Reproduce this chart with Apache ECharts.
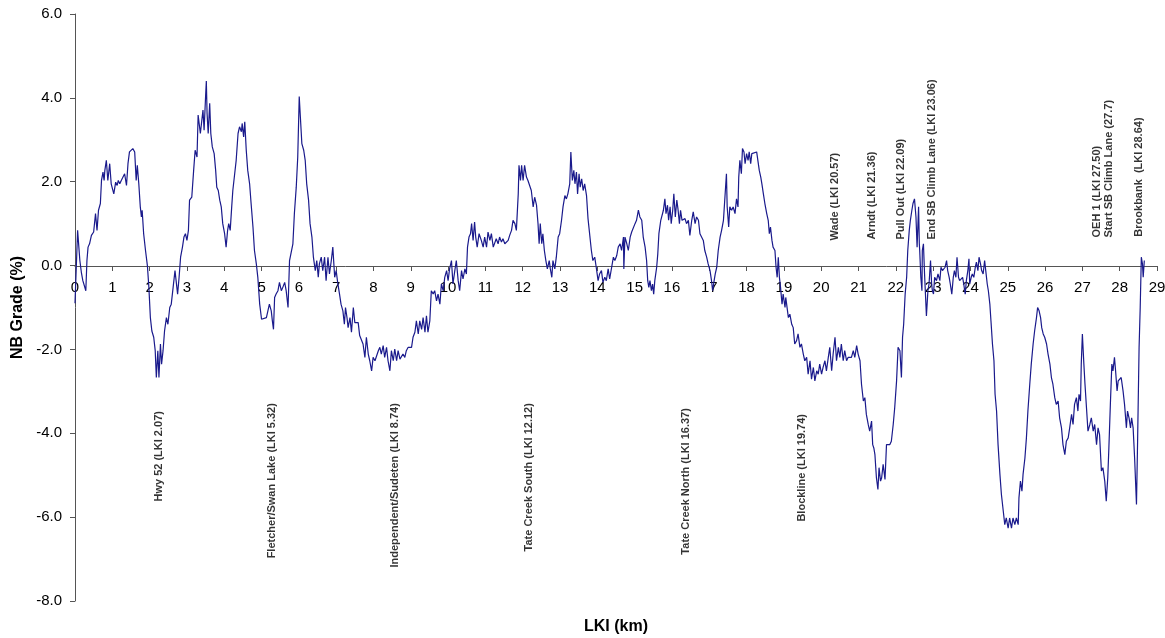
<!DOCTYPE html>
<html>
<head>
<meta charset="utf-8">
<title>NB Grade</title>
<script src="https://cdn.jsdelivr.net/npm/echarts@6/dist/echarts.min.js"></script>
<style>
  html, body { margin: 0; padding: 0; background: #fff; }
  #chart { width: 1165px; height: 638px; }
</style>
</head>
<body>
<div id="chart"></div>
<script>
// chainage along the road (km) and northbound grade (%)
const lki = [
  0.00, 0.07, 0.13, 0.17, 0.21, 0.26, 0.29, 0.32, 0.35, 0.39, 0.44, 0.50, 0.55, 0.59, 0.63, 0.68, 0.71, 0.75, 0.78, 0.80,
  0.84, 0.88, 0.93, 0.97, 1.00, 1.04, 1.09, 1.13, 1.16, 1.20, 1.24, 1.29, 1.33, 1.38, 1.42, 1.46, 1.51, 1.55, 1.60, 1.64,
  1.67, 1.71, 1.75, 1.78, 1.80, 1.84, 1.89, 1.94, 1.98, 2.02, 2.06, 2.11, 2.15, 2.18, 2.21, 2.22, 2.25, 2.29, 2.32, 2.36,
  2.40, 2.45, 2.49, 2.54, 2.58, 2.63, 2.68, 2.71, 2.75, 2.79, 2.83, 2.88, 2.92, 2.96, 3.00, 3.04, 3.07, 3.13, 3.18, 3.22,
  3.27, 3.30, 3.36, 3.39, 3.43, 3.46, 3.50, 3.52, 3.54, 3.57, 3.61, 3.64, 3.68, 3.73, 3.77, 3.80, 3.84, 3.88, 3.92, 3.96,
  4.01, 4.05, 4.09, 4.12, 4.16, 4.20, 4.23, 4.28, 4.32, 4.37, 4.41, 4.46, 4.48, 4.52, 4.55, 4.59, 4.63, 4.68, 4.72, 4.77,
  4.81, 4.86, 4.90, 4.95, 5.00, 5.05, 5.13, 5.17, 5.21, 5.26, 5.29, 5.32, 5.35, 5.39, 5.44, 5.48, 5.53, 5.57, 5.62, 5.66,
  5.71, 5.75, 5.79, 5.84, 5.88, 5.93, 5.97, 6.01, 6.04, 6.08, 6.13, 6.17, 6.21, 6.26, 6.30, 6.35, 6.39, 6.44, 6.48, 6.52,
  6.55, 6.60, 6.64, 6.69, 6.73, 6.78, 6.82, 6.87, 6.91, 6.96, 7.00, 7.04, 7.09, 7.13, 7.18, 7.22, 7.25, 7.29, 7.32, 7.37,
  7.41, 7.46, 7.50, 7.59, 7.63, 7.68, 7.72, 7.77, 7.81, 7.86, 7.90, 7.95, 7.99, 8.04, 8.08, 8.13, 8.17, 8.21, 8.26, 8.30,
  8.35, 8.39, 8.44, 8.48, 8.53, 8.57, 8.62, 8.66, 8.71, 8.75, 8.79, 8.84, 8.88, 8.93, 8.97, 9.02, 9.06, 9.11, 9.15, 9.20,
  9.24, 9.29, 9.33, 9.38, 9.42, 9.46, 9.51, 9.55, 9.60, 9.64, 9.69, 9.73, 9.78, 9.82, 9.87, 9.91, 9.96, 10.00, 10.04, 10.09,
  10.13, 10.18, 10.22, 10.27, 10.31, 10.36, 10.40, 10.45, 10.49, 10.52, 10.56, 10.60, 10.63, 10.67, 10.71, 10.74, 10.78, 10.83, 10.89, 10.94,
  10.98, 11.03, 11.07, 11.12, 11.16, 11.21, 11.25, 11.29, 11.34, 11.38, 11.43, 11.47, 11.52, 11.56, 11.61, 11.65, 11.70, 11.74, 11.79, 11.83,
  11.88, 11.90, 11.94, 11.97, 12.01, 12.05, 12.10, 12.14, 12.19, 12.23, 12.28, 12.32, 12.37, 12.41, 12.44, 12.47, 12.51, 12.54, 12.58, 12.62,
  12.66, 12.71, 12.74, 12.78, 12.81, 12.86, 12.90, 12.95, 12.99, 13.04, 13.08, 13.13, 13.17, 13.21, 13.26, 13.29, 13.33, 13.37, 13.40, 13.44,
  13.47, 13.51, 13.54, 13.58, 13.62, 13.66, 13.71, 13.75, 13.79, 13.84, 13.88, 13.93, 13.97, 14.02, 14.06, 14.11, 14.15, 14.20, 14.24, 14.29,
  14.33, 14.38, 14.43, 14.47, 14.52, 14.56, 14.61, 14.65, 14.70, 14.71, 14.74, 14.79, 14.83, 14.88, 14.92, 14.96, 15.01, 15.05, 15.10, 15.14,
  15.19, 15.23, 15.28, 15.32, 15.35, 15.38, 15.41, 15.45, 15.48, 15.51, 15.54, 15.59, 15.62, 15.65, 15.70, 15.74, 15.77, 15.81, 15.84, 15.88,
  15.91, 15.95, 15.98, 16.02, 16.05, 16.09, 16.13, 16.16, 16.20, 16.23, 16.27, 16.30, 16.35, 16.39, 16.44, 16.48, 16.53, 16.57, 16.62, 16.66,
  16.71, 16.75, 16.79, 16.84, 16.88, 16.93, 16.97, 17.02, 17.06, 17.09, 17.13, 17.16, 17.20, 17.24, 17.29, 17.33, 17.38, 17.42, 17.46, 17.48,
  17.52, 17.55, 17.60, 17.64, 17.69, 17.73, 17.77, 17.79, 17.82, 17.86, 17.89, 17.93, 17.96, 18.00, 18.04, 18.07, 18.11, 18.14, 18.18, 18.27,
  18.31, 18.34, 18.38, 18.41, 18.45, 18.49, 18.54, 18.58, 18.61, 18.64, 18.68, 18.71, 18.76, 18.79, 18.82, 18.85, 18.88, 18.91, 18.95, 18.98,
  19.03, 19.05, 19.12, 19.16, 19.21, 19.25, 19.29, 19.34, 19.38, 19.43, 19.47, 19.52, 19.56, 19.61, 19.65, 19.70, 19.74, 19.79, 19.83, 19.88,
  19.92, 19.96, 20.01, 20.05, 20.10, 20.14, 20.19, 20.23, 20.28, 20.32, 20.37, 20.41, 20.46, 20.50, 20.54, 20.59, 20.63, 20.68, 20.72, 20.77,
  20.81, 20.86, 20.90, 20.95, 20.99, 21.04, 21.08, 21.13, 21.17, 21.21, 21.26, 21.30, 21.35, 21.38, 21.41, 21.44, 21.48, 21.52, 21.55, 21.59,
  21.62, 21.66, 21.71, 21.75, 21.79, 21.84, 21.88, 21.93, 21.97, 22.02, 22.06, 22.11, 22.15, 22.18, 22.21, 22.25, 22.29, 22.32, 22.36, 22.39,
  22.43, 22.46, 22.50, 22.54, 22.57, 22.61, 22.63, 22.64, 22.67, 22.70, 22.71, 22.74, 22.77, 22.79, 22.82, 22.86, 22.89, 22.93, 22.96, 22.98,
  23.01, 23.04, 23.09, 23.13, 23.18, 23.21, 23.25, 23.29, 23.32, 23.36, 23.39, 23.43, 23.46, 23.50, 23.54, 23.57, 23.61, 23.64, 23.68, 23.71,
  23.75, 23.79, 23.82, 23.86, 23.89, 23.93, 23.96, 23.98, 24.02, 24.05, 24.09, 24.13, 24.16, 24.20, 24.23, 24.27, 24.30, 24.34, 24.38, 24.41,
  24.45, 24.48, 24.52, 24.55, 24.59, 24.63, 24.66, 24.70, 24.74, 24.79, 24.83, 24.88, 24.92, 24.96, 25.01, 25.05, 25.10, 25.14, 25.19, 25.23,
  25.28, 25.30, 25.34, 25.38, 25.41, 25.46, 25.50, 25.54, 25.59, 25.63, 25.68, 25.72, 25.77, 25.80, 25.84, 25.88, 25.91, 25.95, 25.99, 26.04,
  26.08, 26.13, 26.17, 26.21, 26.26, 26.30, 26.35, 26.39, 26.44, 26.48, 26.53, 26.57, 26.62, 26.66, 26.71, 26.75, 26.79, 26.84, 26.88, 26.91,
  26.95, 26.97, 27.00, 27.04, 27.07, 27.11, 27.15, 27.20, 27.24, 27.29, 27.33, 27.38, 27.42, 27.46, 27.51, 27.55, 27.60, 27.64, 27.68, 27.71,
  27.75, 27.79, 27.82, 27.86, 27.89, 27.93, 27.96, 28.00, 28.04, 28.09, 28.13, 28.18, 28.21, 28.25, 28.29, 28.32, 28.36, 28.40, 28.45, 28.48,
  28.52, 28.55, 28.58, 28.61, 28.63, 28.66
];

const nbGrade = [
  -0.90, 0.84, 0.12, -0.16, -0.36, -0.40, -0.60, 0.12, 0.44, 0.52, 0.72, 0.80, 1.24, 0.84, 1.32, 1.48, 2.03, 2.23, 2.03, 2.27,
  2.51, 2.03, 2.43, 1.95, 1.91, 1.71, 1.99, 1.91, 2.03, 1.95, 2.03, 1.99, 2.19, 1.91, 2.43, 2.71, 2.75, 2.79, 2.71, 2.03,
  2.39, 1.95, 1.40, 1.16, 1.32, 0.76, 0.36, 0.00, -0.52, -1.24, -1.56, -1.71, -2.03, -2.67, -2.67, -2.03, -2.67, -1.87, -2.35, -2.03,
  -1.56, -1.24, -1.40, -1.00, -0.92, -0.52, -0.12, -0.36, -0.68, -0.28, 0.20, 0.44, 0.68, 0.76, 0.60, 0.84, 1.56, 1.63, 2.27, 2.75,
  2.59, 3.59, 3.15, 3.39, 3.71, 3.23, 4.03, 4.40, 3.63, 3.15, 3.87, 3.15, 2.83, 2.67, 2.27, 1.87, 1.79, 1.56, 1.40, 1.00,
  0.76, 0.44, 0.84, 1.00, 0.84, 1.40, 1.79, 2.19, 2.51, 3.15, 3.31, 3.19, 3.39, 3.07, 3.43, 2.75, 2.27, 1.95, 1.48, 0.92,
  0.36, 0.04, -0.28, -0.92, -1.28, -1.28, -1.24, -1.08, -0.92, -1.08, -1.32, -1.52, -0.76, -0.68, -0.60, -0.40, -0.60, -0.52, -0.40, -0.60,
  -1.00, 0.12, 0.12, 0.52, 1.24, 1.87, 2.59, 4.03, 3.55, 2.91, 2.75, 2.51, 1.95, 1.56, 1.00, 0.68, 0.20, -0.12, 0.12, -0.28,
  0.04, 0.20, -0.12, 0.20, -0.36, 0.20, -0.20, 0.12, 0.44, -0.28, -0.12, -0.40, -0.68, -0.92, -1.08, -1.40, -1.00, -1.24, -1.48, -1.24,
  -1.59, -1.00, -1.36, -1.36, -1.67, -1.71, -1.87, -2.19, -1.71, -2.11, -2.27, -2.51, -2.19, -2.27, -2.27, -2.03, -1.95, -2.11, -1.91, -2.19,
  -1.95, -2.27, -2.51, -2.03, -2.27, -1.99, -2.27, -2.03, -2.23, -2.19, -2.11, -2.19, -2.03, -1.95, -1.99, -1.95, -1.71, -1.59, -1.32, -1.63,
  -1.32, -1.52, -1.24, -1.59, -1.20, -1.59, -1.32, -0.60, -0.68, -0.60, -0.84, -0.68, -0.92, -0.44, -0.60, -0.28, -0.12, -0.36, -0.08, 0.12,
  -0.44, -0.12, 0.12, -0.36, -0.60, -0.12, -0.32, -0.08, -0.20, 0.44, 0.68, 0.76, 1.00, 0.60, 1.04, 0.68, 0.44, 0.76, 0.60, 0.44,
  0.68, 0.44, 0.80, 0.60, 0.76, 0.44, 0.40, 0.64, 0.52, 0.68, 0.56, 0.64, 0.52, 0.52, 0.60, 0.72, 0.84, 1.08, 1.00, 0.84,
  1.71, 2.39, 2.03, 2.39, 2.03, 2.39, 2.11, 2.03, 1.99, 1.79, 1.40, 1.63, 1.44, 1.00, 0.52, 1.00, 0.52, 0.76, 0.36, 0.12,
  -0.08, 0.12, -0.08, -0.28, 0.12, -0.08, 0.20, 0.68, 0.76, 1.08, 1.40, 1.67, 1.59, 1.71, 1.95, 2.71, 2.03, 2.27, 1.95, 2.23,
  1.71, 2.19, 1.87, 2.07, 1.79, 1.95, 1.67, 1.12, 1.08, 0.36, 0.12, 0.20, -0.04, -0.36, -0.20, -0.12, -0.40, -0.28, -0.36, -0.08,
  -0.32, -0.28, 0.20, 0.12, 0.24, 0.44, 0.52, 0.36, 0.68, -0.08, 0.68, 0.52, 0.36, 0.68, 0.80, 0.84, 1.00, 1.08, 1.32, 1.16,
  1.08, 0.68, 0.44, 0.12, -0.36, -0.52, -0.36, -0.60, -0.44, -0.68, -0.36, -0.04, 0.28, 0.76, 1.08, 1.12, 1.32, 1.59, 1.24, 1.44,
  1.08, 1.40, 1.00, 1.32, 1.71, 1.16, 1.56, 1.36, 1.00, 1.32, 1.08, 1.04, 1.12, 1.00, 1.08, 0.72, 1.08, 1.28, 1.00, 1.16,
  1.08, 0.76, 0.80, 0.60, 0.36, 0.20, 0.04, -0.12, -0.36, -0.60, -0.36, -0.20, -0.04, 0.36, 0.68, 0.84, 1.08, 1.08, 2.19, 1.40,
  0.92, 1.40, 1.32, 1.40, 1.24, 1.59, 1.40, 2.11, 2.51, 2.19, 2.79, 2.71, 2.43, 2.67, 2.51, 2.71, 2.43, 2.67, 2.71, 2.71,
  2.71, 2.27, 2.11, 1.95, 1.71, 1.48, 1.24, 1.08, 0.76, 0.92, 0.60, 0.44, 0.36, -0.04, -0.28, 0.20, -0.28, -0.52, -0.92, -0.68,
  -1.00, -0.76, -1.24, -1.16, -1.40, -1.48, -1.87, -1.79, -1.63, -1.95, -1.87, -2.11, -2.27, -2.19, -2.59, -2.27, -2.71, -2.43, -2.75, -2.51,
  -2.59, -2.35, -2.59, -2.43, -2.27, -2.51, -2.19, -1.95, -2.51, -2.11, -1.71, -2.27, -1.95, -2.19, -1.87, -2.27, -2.03, -2.27, -2.19, -2.23,
  -2.19, -2.03, -2.19, -1.91, -2.11, -2.27, -2.83, -3.23, -3.15, -3.55, -3.79, -3.95, -3.71, -4.27, -4.35, -4.51, -5.06, -5.34, -4.82, -5.14,
  -5.06, -4.74, -5.10, -4.27, -4.23, -4.27, -4.19, -3.79, -3.39, -2.75, -1.95, -2.03, -2.67, -1.71, -1.40, -0.68, -0.28, 0.36, 0.84, 1.08,
  1.32, 1.48, 1.59, 1.16, 0.44, 1.40, 0.52, 0.36, -0.28, -0.60, 0.36, 0.52, -0.20, -0.60, -1.20, -0.60, -0.44, 0.12, -0.44, -0.60,
  -0.68, -0.28, -0.36, -0.20, -0.36, -0.04, -0.12, -0.16, -0.04, 0.12, -0.12, -0.28, -0.44, -0.68, -0.28, -0.12, -0.28, 0.20, -0.28, -0.36,
  -0.32, -0.28, -0.44, -0.68, -0.36, -0.12, 0.16, -0.44, -0.28, -0.20, -0.28, -0.04, 0.08, -0.12, 0.20, 0.04, -0.12, -0.20, 0.12, -0.12,
  -0.44, -0.60, -0.92, -1.32, -1.87, -2.27, -3.07, -3.47, -4.27, -4.98, -5.46, -5.86, -6.18, -6.02, -6.26, -6.02, -6.26, -6.02, -6.18, -6.02,
  -6.18, -5.54, -5.14, -5.38, -4.98, -4.59, -4.11, -3.47, -2.83, -2.35, -1.87, -1.56, -1.24, -1.00, -1.08, -1.24, -1.48, -1.63, -1.71, -1.87,
  -2.11, -2.35, -2.67, -2.83, -3.15, -3.31, -3.23, -3.63, -3.87, -4.27, -4.51, -4.19, -4.11, -3.87, -3.55, -3.79, -3.31, -3.15, -3.47, -3.07,
  -3.23, -2.35, -1.63, -2.35, -2.83, -3.39, -3.95, -3.79, -3.63, -3.95, -3.79, -4.27, -3.87, -4.03, -4.90, -4.82, -5.14, -5.62, -5.06, -4.35,
  -3.31, -2.35, -2.51, -2.19, -2.51, -2.99, -2.75, -2.75, -2.67, -2.99, -3.31, -3.87, -3.47, -3.63, -3.87, -3.63, -3.87, -4.59, -5.70, -4.19,
  -1.95, -1.00, 0.20, 0.04, -0.28, 0.12
];

const xTicks = { min: 0, max: 29, step: 1 };
const yTicks = { min: -8, max: 6, step: 2 };

// landmark labels: name, where the text sits [lki, grade], and which way it runs
const markerNames = [
  "Hwy 52 (LKI 2.07)",
  "Fletcher/Swan Lake (LKI 5.32)",
  "Independent/Sudeten (LKI 8.74)",
  "Tate Creek South (LKI 12.12)",
  "Tate Creek North (LKI 16.37)",
  "Blockline (LKI 19.74)",
  "Wade (LKI 20.57)",
  "Arndt (LKI 21.36)",
  "Pull Out (LKI 22.09)",
  "End SB Climb Lane (LKI 23.06)",
  "OEH 1 (LKI 27.50)",
  "Start SB Climb Lane (27.7)",
  "Brookbank  (LKI 28.64)",
];
const markerAt = [
  [2.25, -3.47], [5.28, -3.28], [8.57, -3.28], [12.16, -3.28], [16.37, -3.40], [19.48, -3.54],
  [20.37, 0.60], [21.35, 0.62], [22.13, 0.62], [22.96, 0.62], [27.38, 0.67], [27.71, 0.67], [28.53, 0.69],
];
const markerDown = [true, true, true, true, true, true, false, false, false, false, false, false, false];

const FONT = "'Liberation Sans', Arial, sans-serif";

document.addEventListener("DOMContentLoaded", function () {
  const chart = echarts.init(document.getElementById("chart"), null, {
    renderer: "canvas",
  });

  const profile = lki.map((x, i) => [x, nbGrade[i]]);
  const markers = markerNames.map((name, i) => ({
    value: markerAt[i],
    name: name,
    label: { align: markerDown[i] ? "right" : "left" },
  }));

  const plotTop = 14;
  const plotBottom = 37;
  const plotHeight = 638 - plotTop - plotBottom;
  // lift the x axis (line, ticks and labels) up to the 0 % grade line
  const zeroLift = Math.round(
    (plotHeight * (0 - yTicks.min)) / (yTicks.max - yTicks.min),
  );

  const option = {
    animation: false,
    backgroundColor: "#ffffff",
    grid: {
      left: 75,
      right: 8,
      top: plotTop,
      bottom: plotBottom,
      containLabel: false,
      outerBoundsMode: "none",
    },
    xAxis: {
      type: "value",
      position: "bottom",
      offset: -zeroLift,
      min: xTicks.min,
      max: xTicks.max,
      interval: xTicks.step,
      name: "LKI (km)",
      nameLocation: "middle",
      nameGap: 353,
      nameMoveOverlap: false,
      nameTextStyle: {
        fontFamily: FONT,
        fontSize: 16,
        fontWeight: "bold",
        color: "#000",
      },
      axisLine: { onZero: false, lineStyle: { color: "#555", width: 1 } },
      axisTick: { show: true, length: 5, lineStyle: { color: "#555" } },
      axisLabel: {
        margin: 14,
        fontFamily: FONT,
        fontSize: 15,
        color: "#000",
        showMinLabel: true,
        showMaxLabel: true,
      },
      splitLine: { show: false },
    },
    yAxis: {
      type: "value",
      min: yTicks.min,
      max: yTicks.max,
      interval: yTicks.step,
      name: "NB Grade (%)",
      nameLocation: "middle",
      nameGap: 49,
      nameMoveOverlap: false,
      nameTextStyle: {
        fontFamily: FONT,
        fontSize: 16,
        fontWeight: "bold",
        color: "#000",
      },
      axisLine: { show: true, lineStyle: { color: "#555", width: 1 } },
      axisTick: { show: true, length: 5, lineStyle: { color: "#555" } },
      axisLabel: {
        margin: 13,
        fontFamily: FONT,
        fontSize: 15,
        color: "#000",
        formatter: (v) => v.toFixed(1),
      },
      splitLine: { show: false },
    },
    series: [
      {
        name: "NB Grade",
        type: "line",
        data: profile,
        showSymbol: false,
        symbol: "none",
        lineStyle: { color: "#1a1a8c", width: 1.2 },
        z: 3,
      },
      {
        name: "Landmarks",
        type: "scatter",
        data: markers,
        symbolSize: 0,
        silent: true,
        label: {
          show: true,
          position: "inside",
          rotate: 90,
          verticalAlign: "middle",
          formatter: (p) => p.name,
          fontFamily: FONT,
          fontSize: 11,
          fontWeight: "bold",
          color: "#000",
        },
        z: 4,
      },
    ],
  };

  chart.setOption(option);
  window.onresize = chart.resize;
});
</script>
</body>
</html>
